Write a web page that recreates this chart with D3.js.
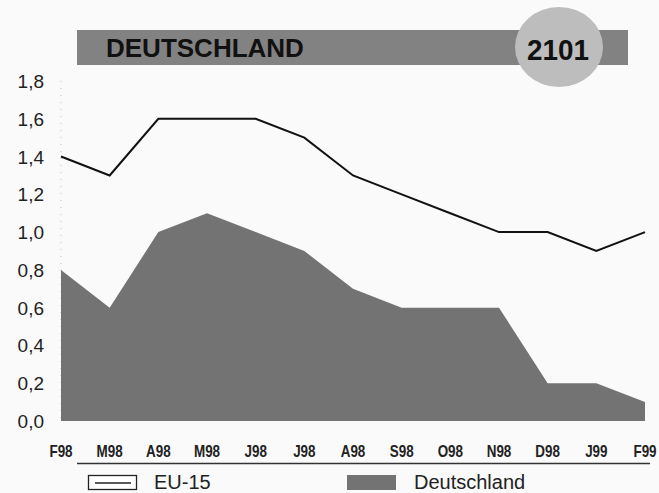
<!DOCTYPE html>
<html>
<head>
<meta charset="utf-8">
<script src="https://cdn.jsdelivr.net/npm/d3@7"></script>
<style>
  html, body { margin: 0; padding: 0; background: #fafafa; }
  svg { display: block; }
</style>
</head>
<body>
<svg id="chart" width="659" height="493"></svg>
<script>
// Monthly values, Feb 1998 – Feb 1999
const months = ["F98","M98","A98","M98","J98","J98","A98","S98","O98","N98","D98","J99","F99"];
const eu15 = [1.4, 1.3, 1.6, 1.6, 1.6, 1.5, 1.3, 1.2, 1.1, 1.0, 1.0, 0.9, 1.0];
const deutschland = [0.8, 0.6, 1.0, 1.1, 1.0, 0.9, 0.7, 0.6, 0.6, 0.6, 0.2, 0.2, 0.1];
const yTicks = [0, 0.2, 0.4, 0.6, 0.8, 1.0, 1.2, 1.4, 1.6, 1.8];
const seriesNames = ["EU-15", "Deutschland"];
const titleText = "DEUTSCHLAND";
const badgeText = "2101";

const svg = d3.select("#chart");
const font = "'Liberation Sans', Arial, sans-serif";

const x = d3.scalePoint().domain(d3.range(months.length)).range([61, 645]);
const y = d3.scaleLinear().domain([0, 1.8]).range([421, 81]);

// Header band with badge
svg.append("rect").attr("x", 77).attr("y", 30).attr("width", 551).attr("height", 35)
  .attr("fill", "#828282");
svg.append("text").attr("x", 106).attr("y", 57).text(titleText)
  .attr("font-family", font).attr("font-weight", "bold").attr("font-size", 26)
  .attr("fill", "#111");
svg.append("ellipse").attr("cx", 559).attr("cy", 47).attr("rx", 44).attr("ry", 40)
  .attr("fill", "#bdbdbd");
svg.append("text").attr("x", 558).attr("y", 60).attr("text-anchor", "middle").text(badgeText)
  .attr("font-family", font).attr("font-weight", "bold").attr("font-size", 29)
  .attr("textLength", 62).attr("lengthAdjust", "spacingAndGlyphs")
  .attr("fill", "#111");

// Faint dotted y axis line
svg.append("line").attr("x1", 61).attr("x2", 61).attr("y1", y(1.8)).attr("y2", y(0))
  .attr("stroke", "#bbb").attr("stroke-dasharray", "1,6");

// Y tick labels
svg.append("g").selectAll("text").data(yTicks).join("text")
  .attr("x", 44).attr("y", d => y(d) + 7).attr("text-anchor", "end")
  .attr("font-family", font).attr("font-size", 19).attr("fill", "#222")
  .text(d => d3.format(".1f")(d).replace(".", ","));

// Deutschland area
const area = d3.area().x((d, i) => x(i)).y0(y(0)).y1(d => y(d));
svg.append("path").datum(deutschland).attr("d", area).attr("fill", "#737373");

// EU-15 line
const line = d3.line().x((d, i) => x(i)).y(d => y(d));
svg.append("path").datum(eu15).attr("d", line).attr("fill", "none")
  .attr("stroke", "#111").attr("stroke-width", 2);

// Month labels, condensed bold
svg.append("g").selectAll("text").data(months).join("text")
  .attr("transform", (d, i) => `translate(${x(i)},457) scale(0.84,1)`)
  .attr("text-anchor", "middle")
  .attr("font-family", font).attr("font-weight", "bold").attr("font-size", 16)
  .attr("fill", "#222").text(d => d);

// Rule under month labels
svg.append("line").attr("x1", 77).attr("x2", 650).attr("y1", 463.5).attr("y2", 463.5)
  .attr("stroke", "#333").attr("stroke-width", 1.3);

// Legend
const legend = svg.append("g");
legend.append("rect").attr("x", 88.5).attr("y", 475.5).attr("width", 48).attr("height", 14)
  .attr("fill", "#fff").attr("stroke", "#222").attr("stroke-width", 1.3);
legend.append("line").attr("x1", 95).attr("x2", 131).attr("y1", 483).attr("y2", 483)
  .attr("stroke", "#222").attr("stroke-width", 1.5);
legend.append("text").attr("x", 154).attr("y", 489).text(seriesNames[0])
  .attr("font-family", font).attr("font-size", 20).attr("fill", "#222");
legend.append("rect").attr("x", 347).attr("y", 475).attr("width", 49).attr("height", 15)
  .attr("fill", "#737373");
legend.append("text").attr("x", 414).attr("y", 489).text(seriesNames[1])
  .attr("font-family", font).attr("font-size", 20).attr("fill", "#222");
</script>
</body>
</html>
